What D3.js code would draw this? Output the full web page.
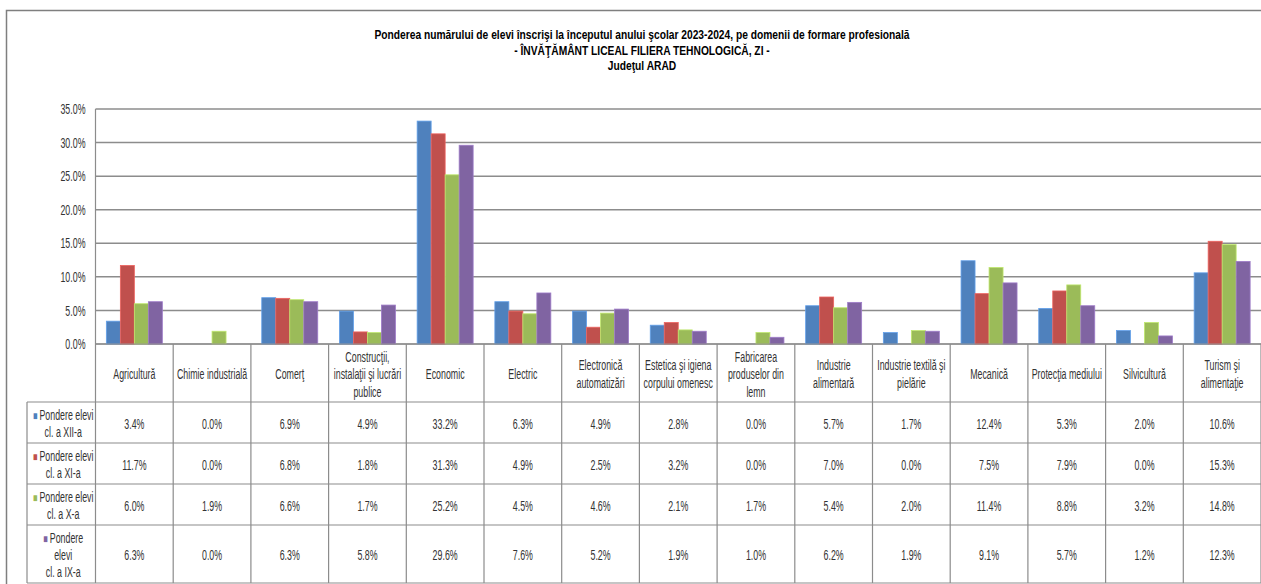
<!DOCTYPE html>
<html>
<head>
<meta charset="utf-8">
<script src="https://cdn.jsdelivr.net/npm/d3@7"></script>
<style>
  body { margin: 0; background: #fff; }
  svg text { font-family: "Liberation Sans", Arial, sans-serif; fill: #333; }
</style>
</head>
<body>
<div id="chart"></div>
<script>
const categories = [
  "Agricultură", "Chimie industrială", "Comerţ", "Construcţii,\ninstalaţii şi lucrări\npublice",
  "Economic", "Electric", "Electronică\nautomatizări", "Estetica şi igiena\ncorpului omenesc",
  "Fabricarea\nproduselor din\nlemn", "Industrie\nalimentară", "Industrie textilă şi\npielărie",
  "Mecanică", "Protecţia mediului", "Silvicultură", "Turism şi\nalimentaţie"
];
const seriesNames = [
  "Pondere elevi\ncl. a XII-a",
  "Pondere elevi\ncl. a XI-a",
  "Pondere elevi\ncl. a X-a",
  "Pondere\nelevi\ncl. a IX-a"
];
const seriesColors = ["#4F81BD", "#C0504D", "#9BBB59", "#8064A2"];
const valsXII = [3.4, 0.0, 6.9, 4.9, 33.2, 6.3, 4.9, 2.8, 0.0, 5.7, 1.7, 12.4, 5.3, 2.0, 10.6];
const valsXI  = [11.7, 0.0, 6.8, 1.8, 31.3, 4.9, 2.5, 3.2, 0.0, 7.0, 0.0, 7.5, 7.9, 0.0, 15.3];
const valsX   = [6.0, 1.9, 6.6, 1.7, 25.2, 4.5, 4.6, 2.1, 1.7, 5.4, 2.0, 11.4, 8.8, 3.2, 14.8];
const valsIX  = [6.3, 0.0, 6.3, 5.8, 29.6, 7.6, 5.2, 1.9, 1.0, 6.2, 1.9, 9.1, 5.7, 1.2, 12.3];
const yTicks = [0, 5, 10, 15, 20, 25, 30, 35];
const titleLines = [
  "Ponderea numărului de elevi înscrişi la începutul anului şcolar 2023-2024,  pe domenii de formare profesională",
  "- ÎNVĂŢĂMÂNT LICEAL FILIERA TEHNOLOGICĂ, ZI -",
  "Judeţul ARAD"
];

const allSeries = [valsXII, valsXI, valsX, valsIX];
const W = 1261, H = 584;
const plot = { left: 95.5, right: 1261, top: 109, bottom: 344 };
const rowEdges = [344, 402, 443, 484, 525, 583];
const legendLeft = 27;
const lineCol = "#8c8c8c";
const SX = 0.61;          // narrow look
const FS = "14.5px";

const svg = d3.select("#chart").append("svg")
  .attr("width", W).attr("height", H);

svg.append("rect").attr("width", W).attr("height", H).attr("fill", "#fff");

// text helper: squeezed horizontally around its anchor point
function label(sel, cx, cy, lines, lh, anchor) {
  const t = sel.append("text")
    .attr("transform", `translate(${cx},${cy}) scale(${SX},1)`)
    .attr("text-anchor", anchor || "middle")
    .style("font-size", FS);
  const off = (lines.length - 1) / 2;
  lines.forEach((ln, j) => {
    t.append("tspan").attr("x", 0).attr("y", (j - off) * lh).attr("dy", "0.35em").text(ln);
  });
  return t;
}

// outer frame
svg.append("path")
  .attr("d", `M6.5,${H + 2}V10.5H${W + 2}`)
  .attr("fill", "none").attr("stroke", "#7f7f7f").attr("stroke-width", 1.5);

// title
svg.append("g").selectAll("text").data(titleLines).join("text")
  .attr("transform", (d, i) => `translate(642,${39 + i * 15.5}) scale(0.76,1)`)
  .attr("text-anchor", "middle")
  .style("font-weight", "bold").style("font-size", "13.5px").style("fill", "#000")
  .text(d => d);

const x = d3.scaleBand().domain(categories).range([plot.left, plot.right]);
const xs = d3.scaleBand().domain(d3.range(4)).range([0, x.bandwidth()]).paddingOuter(0.775);
const y = d3.scaleLinear().domain([0, 35]).range([plot.bottom, plot.top]);

// gridlines
svg.append("g").selectAll("line").data(yTicks).join("line")
  .attr("x1", plot.left).attr("x2", plot.right)
  .attr("y1", d => y(d)).attr("y2", d => y(d))
  .attr("stroke", lineCol).attr("stroke-width", 1.5);

// y axis labels
const yAxis = d3.axisLeft(y).tickValues(yTicks).tickSize(0).tickPadding(10)
  .tickFormat(d => d3.format(".1f")(d) + "%");
svg.append("g").attr("transform", `translate(${plot.left},0)`).call(yAxis)
  .call(g => g.select(".domain").remove())
  .selectAll("text")
  .attr("transform", `translate(-10,0) scale(${SX},1) translate(10,0)`)
  .style("font-size", FS).style("fill", "#333").style("font-family", "'Liberation Sans', Arial, sans-serif");

// bars
const barG = svg.append("g");
allSeries.forEach((vals, s) => {
  barG.append("g").selectAll("rect").data(vals).join("rect")
    .attr("x", (d, i) => x(categories[i]) + xs(s))
    .attr("width", xs.bandwidth())
    .attr("y", d => y(d))
    .attr("height", d => y(0) - y(d))
    .attr("fill", seriesColors[s])
    .attr("stroke", d3.color(seriesColors[s]).brighter(0.6))
    .attr("stroke-width", 0.8);
});

// table lines
const tbl = svg.append("g").attr("stroke", lineCol).attr("stroke-width", 1.2);
tbl.append("line").attr("x1", plot.left).attr("x2", plot.left).attr("y1", plot.top).attr("y2", rowEdges[5]);
categories.forEach(c => {
  tbl.append("line").attr("x1", x(c) + x.bandwidth()).attr("x2", x(c) + x.bandwidth())
    .attr("y1", rowEdges[0]).attr("y2", rowEdges[5]);
});
tbl.append("line").attr("x1", legendLeft).attr("x2", legendLeft).attr("y1", rowEdges[1]).attr("y2", rowEdges[5]);
rowEdges.forEach((r, i) => {
  tbl.append("line").attr("x1", i === 0 ? plot.left : legendLeft).attr("x2", plot.right)
    .attr("y1", r).attr("y2", r);
});

// category labels
const headG = svg.append("g");
categories.forEach(c => {
  label(headG, x(c) + x.bandwidth() / 2, (rowEdges[0] + rowEdges[1]) / 2 + 1, c.split("\n"), 17.5);
});

// legend + values
const rowG = svg.append("g");
allSeries.forEach((vals, s) => {
  const cy = (rowEdges[s + 1] + rowEdges[s + 2]) / 2 + 1;
  const lines = seriesNames[s].split("\n");
  const lt = label(rowG, (legendLeft + plot.left) / 2 + 2, cy, lines, 17);
  lt.select("tspan").text(null)
    .call(ts => ts.append("tspan").text("■ ").style("fill", seriesColors[s]).style("font-size", "12px"))
    .call(ts => ts.append("tspan").text(lines[0]));
  vals.forEach((d, i) => {
    label(rowG, x(categories[i]) + x.bandwidth() / 2, cy, [d3.format(".1f")(d) + "%"], 0);
  });
});
</script>
</body>
</html>
